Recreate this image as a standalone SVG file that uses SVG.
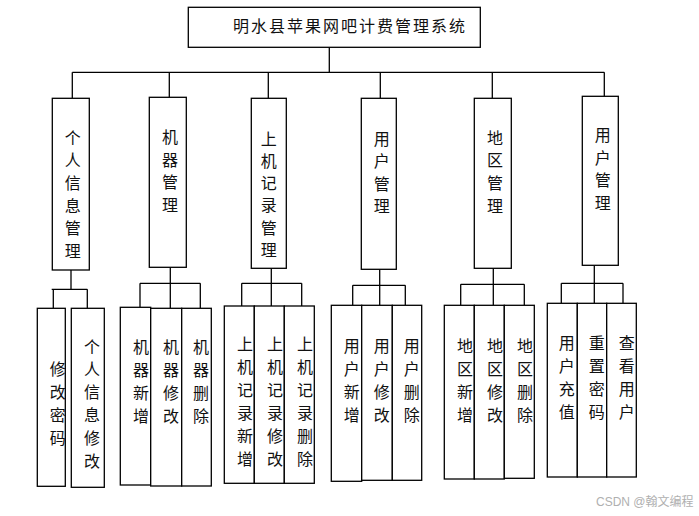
<svg xmlns="http://www.w3.org/2000/svg" width="699" height="516" viewBox="0 0 699 516">
<style>
rect.b{fill:#fff;stroke:#000;stroke-width:1.3}
.c line{stroke:#000;stroke-width:1.3}
text{font-family:"Noto Sans CJK SC","Liberation Serif",serif;font-size:16px;fill:#111}
text.v{text-anchor:middle}
text.w{font-family:"Liberation Sans","Noto Sans CJK SC",sans-serif;font-size:12px;fill:#b0b0b0}
</style>
<rect width="699" height="516" fill="#fff"/>
<g class="c" id="connectors">
<line x1="329.3" y1="47.3" x2="329.3" y2="73"/>
<line x1="72.3" y1="72.3" x2="604.3" y2="72.3"/>
<line x1="72.3" y1="72.3" x2="72.3" y2="98.3"/>
<line x1="169.3" y1="72.3" x2="169.3" y2="97.3"/>
<line x1="268.3" y1="72.3" x2="268.3" y2="98.3"/>
<line x1="380.3" y1="72.3" x2="380.3" y2="98.3"/>
<line x1="492.3" y1="72.3" x2="492.3" y2="98.3"/>
<line x1="604.3" y1="72.3" x2="604.3" y2="96.3"/>
<line x1="71" y1="270" x2="71" y2="289.3"/>
<line x1="51.7" y1="289.3" x2="87.3" y2="289.3"/>
<line x1="53.3" y1="289.3" x2="53.3" y2="308.3"/>
<line x1="87.3" y1="289.3" x2="87.3" y2="309.3"/>
<line x1="170.3" y1="267.3" x2="170.3" y2="283.3"/>
<line x1="140" y1="283.3" x2="200.3" y2="283.3"/>
<line x1="140" y1="283.3" x2="140" y2="307.3"/>
<line x1="170.3" y1="283.3" x2="170.3" y2="308.3"/>
<line x1="200.3" y1="283.3" x2="200.3" y2="308.3"/>
<line x1="271.3" y1="268.3" x2="271.3" y2="283.3"/>
<line x1="241.7" y1="283.3" x2="301.7" y2="283.3"/>
<line x1="241.7" y1="283.3" x2="241.7" y2="306"/>
<line x1="271.3" y1="283.3" x2="271.3" y2="306"/>
<line x1="301.7" y1="283.3" x2="301.7" y2="306"/>
<line x1="379.7" y1="269.3" x2="379.7" y2="285.3"/>
<line x1="352.7" y1="285.3" x2="405.3" y2="285.3"/>
<line x1="352.7" y1="285.3" x2="352.7" y2="305.3"/>
<line x1="379.7" y1="285.3" x2="379.7" y2="305.3"/>
<line x1="405.3" y1="285.3" x2="405.3" y2="305.3"/>
<line x1="493.3" y1="268.3" x2="493.3" y2="284.3"/>
<line x1="460.7" y1="284.3" x2="524.3" y2="284.3"/>
<line x1="460.7" y1="284.3" x2="460.7" y2="305.3"/>
<line x1="493.3" y1="284.3" x2="493.3" y2="305.3"/>
<line x1="524.3" y1="284.3" x2="524.3" y2="305.3"/>
<line x1="594.3" y1="265.3" x2="594.3" y2="283.3"/>
<line x1="561.3" y1="283.3" x2="623" y2="283.3"/>
<line x1="561.3" y1="283.3" x2="561.3" y2="303.3"/>
<line x1="594.3" y1="283.3" x2="594.3" y2="303.3"/>
<line x1="623" y1="283.3" x2="623" y2="303.3"/>
</g>
<g id="root"><rect class="b" x="188.3" y="7.3" width="292" height="40"/><text x="233" y="32" letter-spacing="2">明水县苹果网吧计费管理系统</text></g>
<g id="n1"><rect class="b" x="52.3" y="98.3" width="37" height="171.7"/><text class="v"><tspan x="72.7" y="143.5">个</tspan><tspan x="72.7" dy="22.7">人</tspan><tspan x="72.7" dy="22.7">信</tspan><tspan x="72.7" dy="22.7">息</tspan><tspan x="72.7" dy="22.7">管</tspan><tspan x="72.7" dy="22.7">理</tspan></text></g>
<g id="n2"><rect class="b" x="149.3" y="97.3" width="37" height="170"/><text class="v"><tspan x="170" y="143">机</tspan><tspan x="170" dy="22.7">器</tspan><tspan x="170" dy="22.7">管</tspan><tspan x="170" dy="22.7">理</tspan></text></g>
<g id="n3"><rect class="b" x="251.3" y="98.3" width="35" height="170"/><text class="v"><tspan x="268.7" y="144.5">上</tspan><tspan x="268.7" dy="22.3">机</tspan><tspan x="268.7" dy="22.3">记</tspan><tspan x="268.7" dy="22.3">录</tspan><tspan x="268.7" dy="22.3">管</tspan><tspan x="268.7" dy="22.3">理</tspan></text></g>
<g id="n4"><rect class="b" x="361.3" y="98.3" width="35" height="171"/><text class="v"><tspan x="381.7" y="144.5">用</tspan><tspan x="381.7" dy="22.5">户</tspan><tspan x="381.7" dy="22.5">管</tspan><tspan x="381.7" dy="22.5">理</tspan></text></g>
<g id="n5"><rect class="b" x="474.3" y="98.3" width="37" height="170"/><text class="v"><tspan x="495" y="143.5">地</tspan><tspan x="495" dy="22.7">区</tspan><tspan x="495" dy="22.7">管</tspan><tspan x="495" dy="22.7">理</tspan></text></g>
<g id="n6"><rect class="b" x="582.3" y="96.3" width="36" height="169"/><text class="v"><tspan x="602.7" y="141">用</tspan><tspan x="602.7" dy="22.7">户</tspan><tspan x="602.7" dy="22.7">管</tspan><tspan x="602.7" dy="22.7">理</tspan></text></g>
<g id="n1a"><rect class="b" x="37.3" y="308.3" width="28" height="178"/><text class="v"><tspan x="57.7" y="375">修</tspan><tspan x="57.7" dy="23">改</tspan><tspan x="57.7" dy="23">密</tspan><tspan x="57.7" dy="23">码</tspan></text></g>
<g id="n1b"><rect class="b" x="71.3" y="308.3" width="33" height="179"/><text class="v"><tspan x="92" y="352.5">个</tspan><tspan x="92" dy="22.9">人</tspan><tspan x="92" dy="22.9">信</tspan><tspan x="92" dy="22.9">息</tspan><tspan x="92" dy="22.9">修</tspan><tspan x="92" dy="22.9">改</tspan></text></g>
<g id="n2a"><rect class="b" x="120.3" y="307.3" width="30.4" height="177.7"/><text class="v"><tspan x="141" y="352.5">机</tspan><tspan x="141" dy="23">器</tspan><tspan x="141" dy="23">新</tspan><tspan x="141" dy="23">增</tspan></text></g>
<g id="n2b"><rect class="b" x="150.7" y="308.3" width="31" height="177.7"/><text class="v"><tspan x="171" y="352.5">机</tspan><tspan x="171" dy="23">器</tspan><tspan x="171" dy="23">修</tspan><tspan x="171" dy="23">改</tspan></text></g>
<g id="n2c"><rect class="b" x="181.7" y="308.3" width="29.6" height="177.7"/><text class="v"><tspan x="201" y="352.5">机</tspan><tspan x="201" dy="23">器</tspan><tspan x="201" dy="23">删</tspan><tspan x="201" dy="23">除</tspan></text></g>
<g id="n3a"><rect class="b" x="224.3" y="306" width="30" height="177.3"/><text class="v"><tspan x="245" y="350">上</tspan><tspan x="245" dy="23">机</tspan><tspan x="245" dy="23">记</tspan><tspan x="245" dy="23">录</tspan><tspan x="245" dy="23">新</tspan><tspan x="245" dy="23">增</tspan></text></g>
<g id="n3b"><rect class="b" x="254.3" y="306" width="30" height="177.3"/><text class="v"><tspan x="275" y="350">上</tspan><tspan x="275" dy="23">机</tspan><tspan x="275" dy="23">记</tspan><tspan x="275" dy="23">录</tspan><tspan x="275" dy="23">修</tspan><tspan x="275" dy="23">改</tspan></text></g>
<g id="n3c"><rect class="b" x="284.3" y="306" width="30" height="177.3"/><text class="v"><tspan x="305" y="350">上</tspan><tspan x="305" dy="23">机</tspan><tspan x="305" dy="23">记</tspan><tspan x="305" dy="23">录</tspan><tspan x="305" dy="23">删</tspan><tspan x="305" dy="23">除</tspan></text></g>
<g id="n4a"><rect class="b" x="331.3" y="305.3" width="30.4" height="176"/><text class="v"><tspan x="351.7" y="351.8">用</tspan><tspan x="351.7" dy="23">户</tspan><tspan x="351.7" dy="23">新</tspan><tspan x="351.7" dy="23">增</tspan></text></g>
<g id="n4b"><rect class="b" x="361.7" y="305.3" width="30.6" height="175"/><text class="v"><tspan x="381.7" y="351.8">用</tspan><tspan x="381.7" dy="23">户</tspan><tspan x="381.7" dy="23">修</tspan><tspan x="381.7" dy="23">改</tspan></text></g>
<g id="n4c"><rect class="b" x="392.3" y="305.3" width="29.4" height="175"/><text class="v"><tspan x="411.7" y="351.8">用</tspan><tspan x="411.7" dy="23">户</tspan><tspan x="411.7" dy="23">删</tspan><tspan x="411.7" dy="23">除</tspan></text></g>
<g id="n5a"><rect class="b" x="444.3" y="305.3" width="30" height="173.7"/><text class="v"><tspan x="465" y="351.8">地</tspan><tspan x="465" dy="23">区</tspan><tspan x="465" dy="23">新</tspan><tspan x="465" dy="23">增</tspan></text></g>
<g id="n5b"><rect class="b" x="474.3" y="305.3" width="30" height="173.7"/><text class="v"><tspan x="495" y="351.8">地</tspan><tspan x="495" dy="23">区</tspan><tspan x="495" dy="23">修</tspan><tspan x="495" dy="23">改</tspan></text></g>
<g id="n5c"><rect class="b" x="504.3" y="305.3" width="30" height="173"/><text class="v"><tspan x="525" y="351.8">地</tspan><tspan x="525" dy="23">区</tspan><tspan x="525" dy="23">删</tspan><tspan x="525" dy="23">除</tspan></text></g>
<g id="n6a"><rect class="b" x="547.3" y="303.3" width="30" height="173.7"/><text class="v"><tspan x="566.7" y="349.2">用</tspan><tspan x="566.7" dy="23">户</tspan><tspan x="566.7" dy="23">充</tspan><tspan x="566.7" dy="23">值</tspan></text></g>
<g id="n6b"><rect class="b" x="577.3" y="303.3" width="29.4" height="173.7"/><text class="v"><tspan x="596.7" y="349.2">重</tspan><tspan x="596.7" dy="23">置</tspan><tspan x="596.7" dy="23">密</tspan><tspan x="596.7" dy="23">码</tspan></text></g>
<g id="n6c"><rect class="b" x="606.7" y="303.3" width="29.6" height="173.7"/><text class="v"><tspan x="626.7" y="349.2">查</tspan><tspan x="626.7" dy="23">看</tspan><tspan x="626.7" dy="23">用</tspan><tspan x="626.7" dy="23">户</tspan></text></g>
<text class="w" x="596" y="506">CSDN @翰文编程</text>
</svg>
